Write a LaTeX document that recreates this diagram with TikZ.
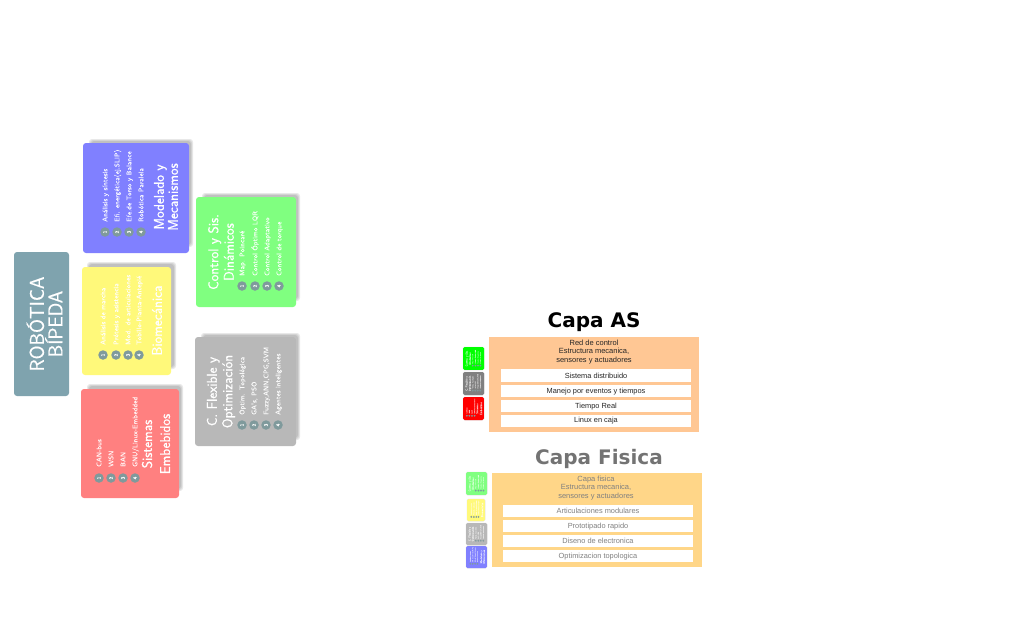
\documentclass[tikz,border=0pt]{standalone}
\usepackage{fontspec}
\newfontfamily\djbold[Ligatures=TeX]{DejaVu Sans Bold}
\newfontfamily\libsans{Liberation Sans}
\newfontfamily\lmheavy[FakeBold=0.6]{Latin Modern Sans}
\newfontfamily\lmsemi[FakeBold=0.25]{Latin Modern Sans}
\definecolor{cblue}{HTML}{8080FF}
\definecolor{cyellow}{HTML}{FFF97A}
\definecolor{cred}{HTML}{FF8080}
\definecolor{cgreen}{HTML}{80FF80}
\definecolor{cgray}{HTML}{B8B8B8}
\definecolor{croot}{HTML}{7FA3AE}
\definecolor{cdot}{HTML}{7F9A9C}
\definecolor{panelas}{HTML}{FFC794}
\definecolor{panelfi}{HTML}{FFD688}
\newcommand\rr{3pt}
\newcommand\dotnum[1]{#1}
\tikzset{
  itemtxt/.style={rotate=90,anchor=west,inner sep=0pt,text=white,text opacity=.85,font=\lmsemi\fontsize{6.9}{7}\selectfont,text height=1.4ex,text depth=.3ex,transform shape},
  ttl/.style={rotate=90,align=center,inner sep=0pt,text=white,font=\lmheavy\fontsize{14.2}{15.5}\selectfont,transform shape},
  dotn/.style={circle,fill=cdot,inner sep=0pt,minimum size=9.5pt,rotate=90,text=white,font=\lmsemi\fontsize{5}{5}\selectfont,transform shape},
  shadowbox/.style={fill=black,fill opacity=.09,rounded corners=3pt},
  inbox/.style={fill=white,draw=none},
  plabel/.style={align=center,inner sep=0pt,font=\libsans\fontsize{7.5}{8.5}\selectfont},
  rowtxt/.style={inner sep=0pt,font=\libsans\fontsize{7.4}{9}\selectfont},
  minibord/.style={draw=black!15,line width=.5pt,rounded corners=1.5pt},
  minicard/.style={itemtxt/.append style={text opacity=.5},ttl/.append style={text opacity=.55}},
}
\newcommand\softshadow[4]{%
  \fill[shadowbox] (#1-1,#2-1) rectangle (#3+1,#4+1);
  \fill[shadowbox] (#1,#2) rectangle (#3,#4);
  \fill[shadowbox] (#1+1,#2+1) rectangle (#3-1,#4-1);}
% prefix, x of dot, y of dot, y of text start, number, text
\newcommand\mitem[6]{%
  \node[dotn] (#1d#5) at (#2,#3) {\dotnum{#5}};
  \node[itemtxt] (#1t#5) at (#2,#4) {#6};}
\newcommand\cardblue[1]{%
  \fill[cblue,rounded corners=\rr] (83,143) rectangle (189,253);
  \mitem{#1}{105}{232}{222}{1}{Análisis y síntesis}
  \mitem{#1}{117}{232}{222}{2}{Efi. energética(ej.SLIP)}
  \mitem{#1}{129}{232}{222}{3}{Efe.de Torso y Balance}
  \mitem{#1}{141}{232}{222}{4}{Robótica Paralela}
  \node[ttl] (#1h) at (166,197) {Modelado y\\[-1.5pt]Mecanismos};}
\newcommand\cardyellow[1]{%
  \fill[cyellow,rounded corners=\rr] (82,267) rectangle (171,375);
  \mitem{#1}{103}{355}{345}{1}{Análisis de marcha}
  \mitem{#1}{116}{355}{345}{2}{Prótesis y asistencia}
  \mitem{#1}{128}{355}{345}{3}{Mod. de articulaciones}
  \mitem{#1}{139}{355}{345}{4}{Tobillo-Planta-Antepié}
  \node[ttl] (#1h) at (157,320.5) {Biomecánica};}
\newcommand\cardred[1]{%
  \fill[cred,rounded corners=\rr] (81,389) rectangle (179,498);
  \mitem{#1}{99}{478}{467}{1}{CAN-bus}
  \mitem{#1}{111}{478}{467}{2}{WSN}
  \mitem{#1}{123}{478}{467}{3}{BAN}
  \mitem{#1}{135}{478}{467}{4}{GNU/Linux-Embedded}
  \node[ttl] (#1h) at (156,444) {Sistemas\\[2.5pt]Embebidos};}
\newcommand\cardgreen[1]{%
  \fill[cgreen,rounded corners=\rr] (196,197) rectangle (296,307);
  \mitem{#1}{242}{286}{276}{1}{Map. Poincaré}
  \mitem{#1}{255}{286}{276}{2}{Control Óptimo LQR}
  \mitem{#1}{267}{286}{276}{3}{Control Adaptativo}
  \mitem{#1}{279}{286}{276}{4}{Control de torque}
  \node[ttl] (#1h) at (221,252) {Control y Sis.\\Dinámicos};}
\newcommand\cardgray[1]{%
  \fill[cgray,rounded corners=\rr] (195,337) rectangle (296,446);
  \mitem{#1}{242}{425}{415}{1}{Optim. Topológica}
  \mitem{#1}{254}{425}{415}{2}{GA's, PSO}
  \mitem{#1}{266}{425}{415}{3}{Fuzzy,ANN,CPG,SVM}
  \mitem{#1}{278}{425}{415}{4}{Agentes inteligentes}
  \node[ttl] (#1h) at (221,391.5) {C. Flexible y\\Optimización};}
\newcommand\mini[8]{%
  \begin{scope}[shift={(#2,#3)},xscale=#6,yscale=#7,shift={(-#4,-#5)},minicard,#8]
    #1
  \end{scope}}
\begin{document}
\begin{tikzpicture}[x=1pt,y=-1pt]
\useasboundingbox (0,0) rectangle (1024,640);
% shadows
\softshadow{90}{140}{192}{246}
\softshadow{88}{263}{175}{368}
\softshadow{88}{385}{182}{490}
\softshadow{203}{194}{299}{300}
\softshadow{202}{334}{299}{439}
% root
\fill[croot,rounded corners=\rr] (14,252) rectangle (69,396);
\node[ttl,font=\lmheavy\fontsize{20}{17}\selectfont] (root) at (44.5,324) {ROBÓTICA\\BÍPEDA};
% cards
\cardblue{b}
\cardyellow{y}
\cardred{r}
\cardgreen{g}
\cardgray{c}
% Capa AS
\node[font=\djbold\fontsize{20}{20}\selectfont,inner sep=0pt] (asT) at (594,322) {Capa AS};
\fill[panelas] (489,337) rectangle (699,432);
\node[plabel,text=black!85] (asH) at (594,351.8) {Red de control\\Estructura mecanica,\\sensores y actuadores};
\fill[inbox] (501,369) rectangle (691,382);
\fill[inbox] (501,385) rectangle (691,397);
\fill[inbox] (501,400) rectangle (691,412);
\fill[inbox] (501,415) rectangle (691,427);
\node[rowtxt,text=black!85] (as1) at (596,375.8) {Sistema distribuido};
\node[rowtxt,text=black!85] (as2) at (596,391.3) {Manejo por eventos y tiempos};
\node[rowtxt,text=black!85] (as3) at (596,406.3) {Tiempo Real};
\node[rowtxt,text=black!85] (as4) at (596,421) {Linux en caja};
\renewcommand\rr{1.5pt}
\renewcommand\dotnum[1]{}
\colorlet{savegreen}{cgreen}\colorlet{savegray}{cgray}\colorlet{savered}{cred}
\definecolor{cgreen}{HTML}{00FF00}\definecolor{cgray}{HTML}{808080}\definecolor{cred}{HTML}{FF0000}
\draw[minibord] (463,347) rectangle (484,370);
\mini{\cardgreen{ma}}{463}{347}{196}{197}{.21}{.209}{}
\draw[minibord] (463,372) rectangle (484,395);
\mini{\cardgray{mb}}{463}{372}{195}{337}{.208}{.211}{}
\draw[minibord] (463,397) rectangle (484,420);
\mini{\cardred{mc}}{463}{397}{81}{389}{.214}{.211}{}
\colorlet{cgreen}{savegreen}\colorlet{cgray}{savegray}\colorlet{cred}{savered}
% Capa Fisica
\node[font=\djbold\fontsize{20}{20}\selectfont,inner sep=0pt,text=black!55] (fiT) at (599,459) {Capa Fisica};
\fill[panelfi] (492,473) rectangle (702,567);
\node[plabel,text=black!50] (fiH) at (596,488) {Capa fisica\\Estructura mecanica,\\sensores y actuadores};
\fill[inbox] (503,505) rectangle (693,517);
\fill[inbox] (503,520) rectangle (693,532);
\fill[inbox] (503,535) rectangle (693,547);
\fill[inbox] (503,550) rectangle (693,562);
\node[rowtxt,text=black!50] (fi1) at (598,511.3) {Articulaciones modulares};
\node[rowtxt,text=black!50] (fi2) at (598,526.3) {Prototipado rapido};
\node[rowtxt,text=black!50] (fi3) at (598,541.3) {Diseno de electronica};
\node[rowtxt,text=black!50] (fi4) at (598,556.3) {Optimizacion topologica};
\draw[minibord] (466,472) rectangle (487,495);
\mini{\cardgreen{md}}{466}{472}{196}{197}{.21}{.209}{}
\draw[minibord] (467,499) rectangle (485,521);
\mini{\cardyellow{me}}{467}{499}{82}{267}{.202}{.204}{}
\draw[minibord] (466,523) rectangle (487,545);
\mini{\cardgray{mf}}{466}{523}{195}{337}{.208}{.202}{}
\draw[minibord] (466,546) rectangle (487,568);
\mini{\cardblue{mg}}{466}{546}{83}{143}{.198}{.2}{}
\end{tikzpicture}
\end{document}
